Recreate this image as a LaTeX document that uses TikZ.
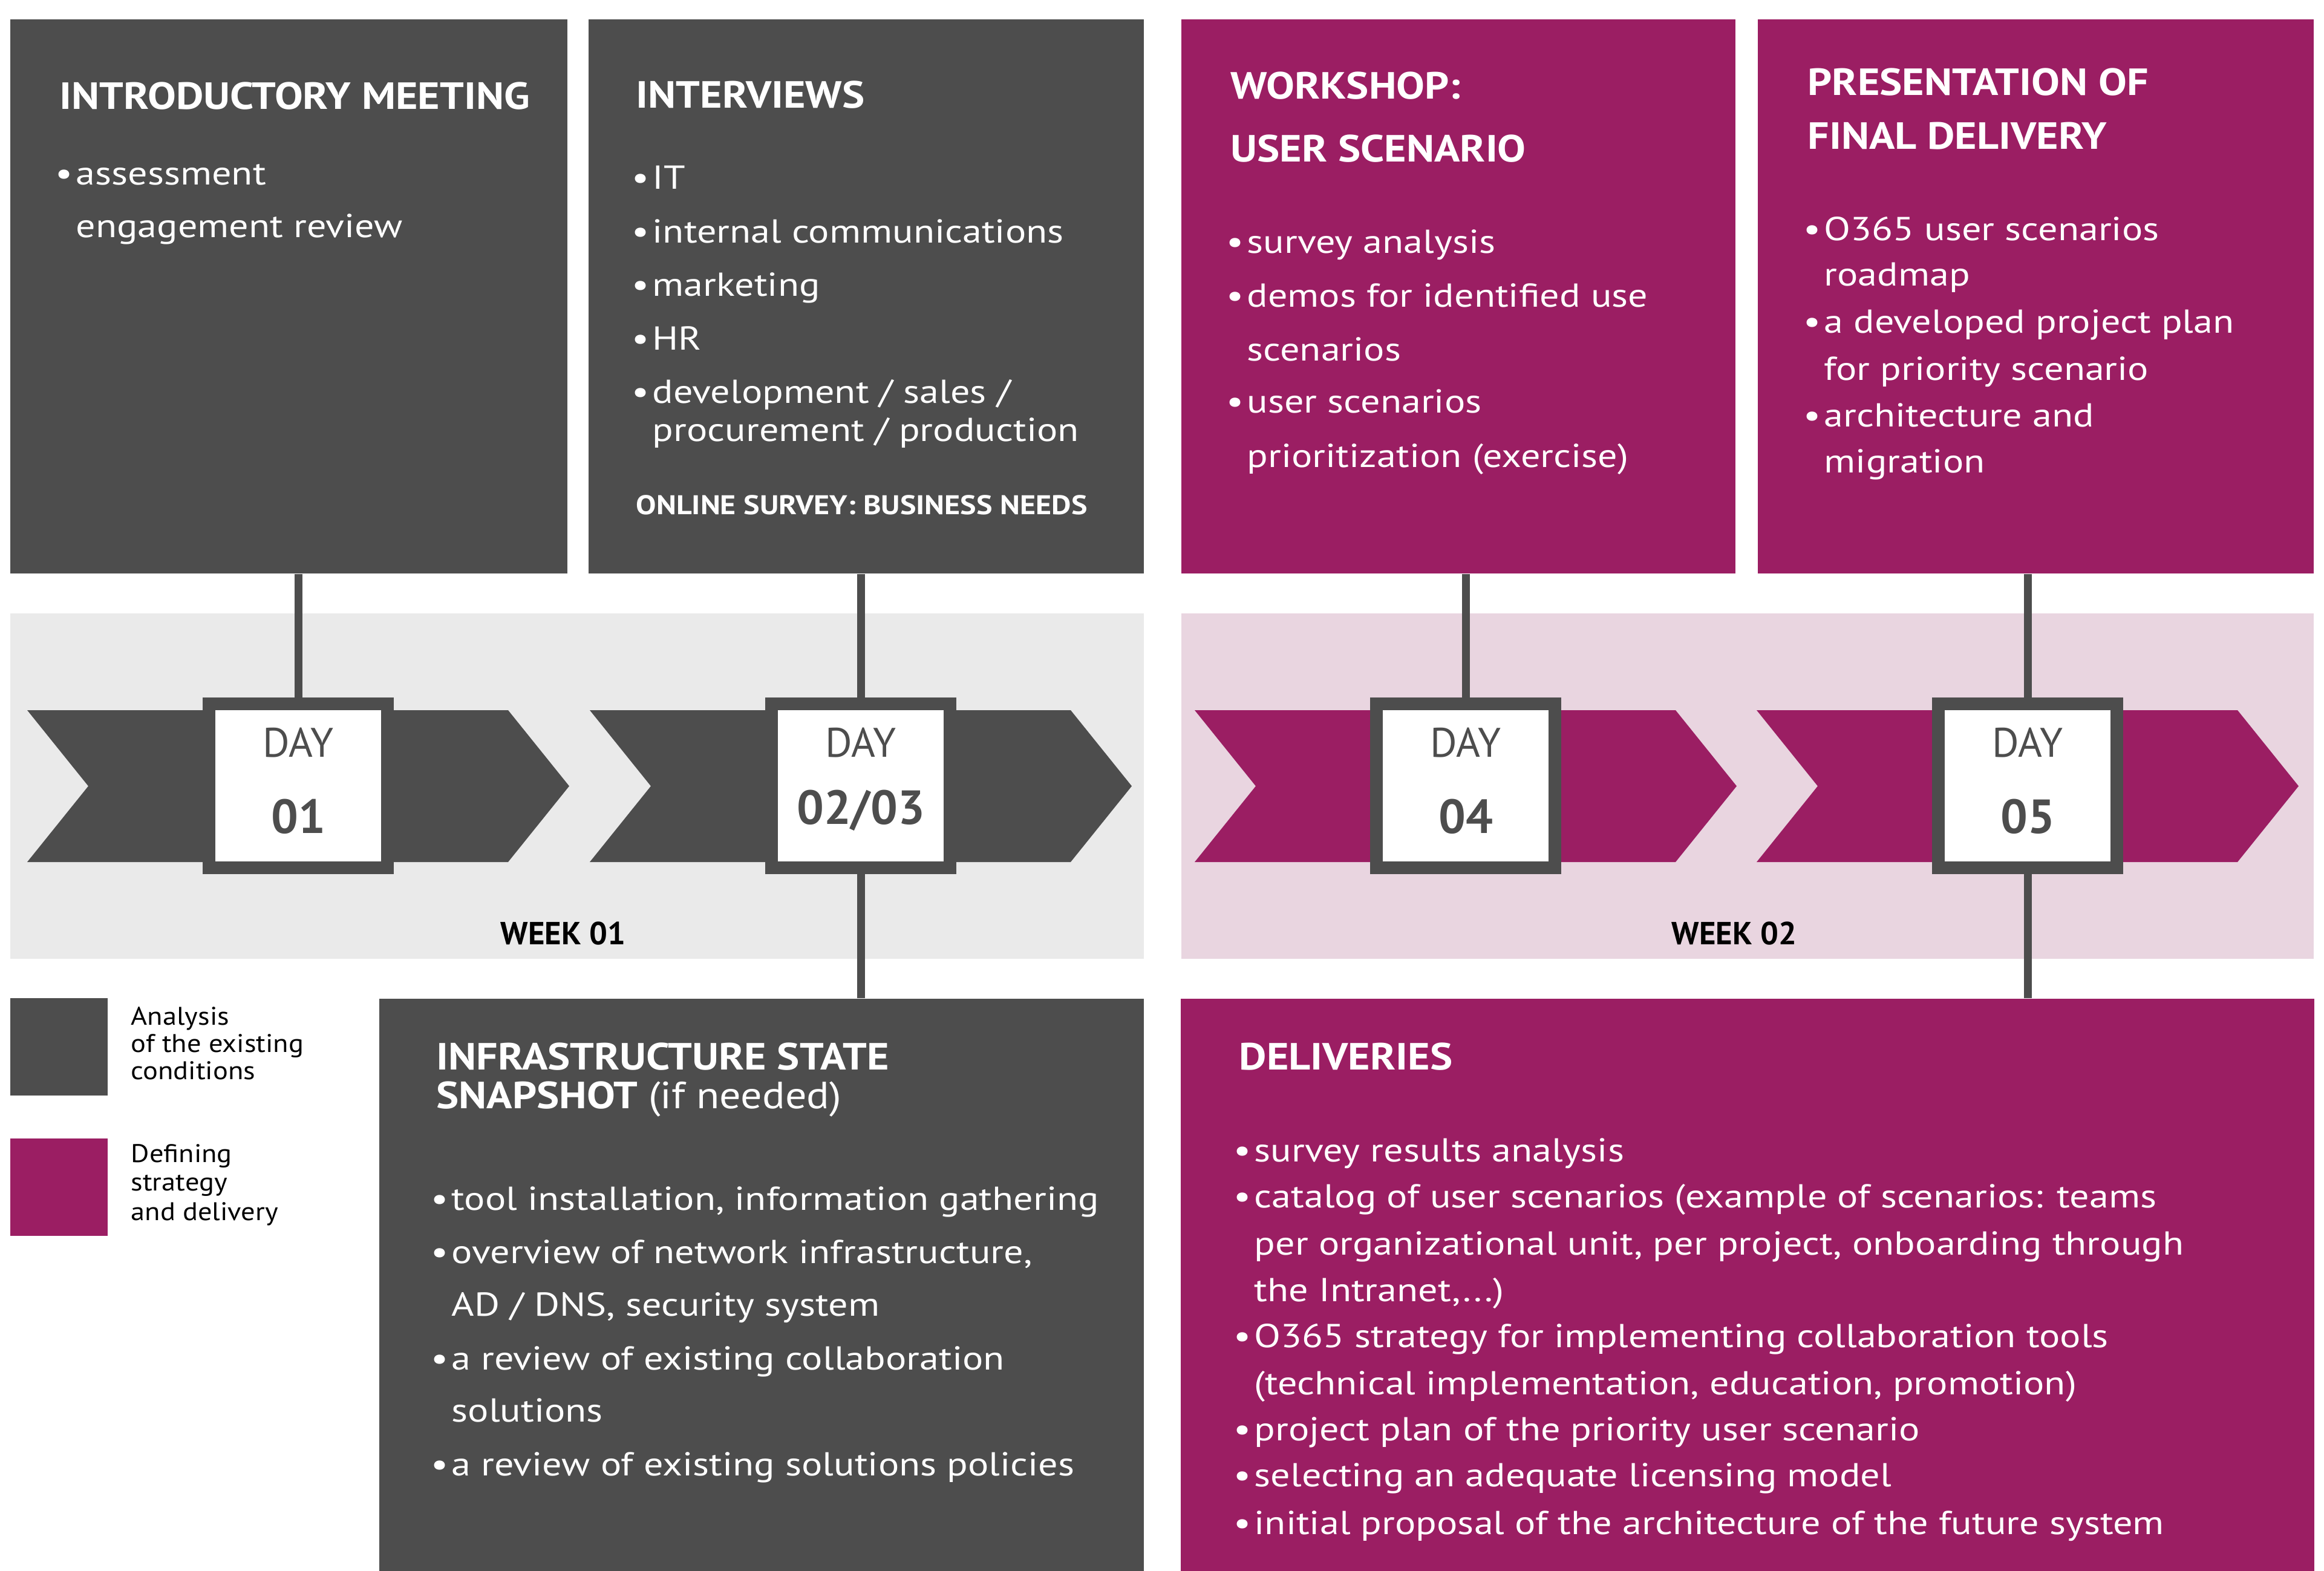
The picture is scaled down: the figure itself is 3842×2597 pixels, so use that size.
\documentclass[tikz,border=0pt]{standalone}
\usepackage{fontspec}
\setmainfont{PT Sans}[FakeStretch=1.17]
\newfontfamily\headsans{PT Sans}[FakeStretch=1.12]
\newfontfamily\keysans{PT Sans}[FakeStretch=1.10]
\newfontfamily\plainsans{PT Sans}
\usetikzlibrary{positioning}

\definecolor{darkbox}{HTML}{4D4D4D}
\definecolor{plum}{HTML}{9B1E63}
\definecolor{greyband}{HTML}{EAEAEA}
\definecolor{plumband}{HTML}{E9D5E0}

\newcommand\headfont{\headsans\bfseries\fontsize{17.8}{21}\selectfont}
\newcommand\bodyfont{\fontsize{15.6}{19}\selectfont}
\newcommand\notefont{\headsans\bfseries\fontsize{12.7}{15}\selectfont}
\newcommand\legendfont{\keysans\fontsize{12}{14}\selectfont}
\newcommand\weekfont{\plainsans\bfseries\fontsize{15}{18}\selectfont}
\newcommand\dayfont{\plainsans\fontsize{19.4}{23}\selectfont}
\newcommand\numfont{\plainsans\bfseries\fontsize{22.5}{26}\selectfont}
\newcommand\bul{\llap{\textbullet\hspace{1.5pt}}}

\begin{document}
\begin{tikzpicture}[x=0.01cm, y=-0.01cm,
    card/.style={fill=#1, inner sep=0pt, minimum height=9.16cm},
    daybox/.style={fill=white, draw=darkbox, line width=0.21cm, inner sep=0pt, minimum width=2.94cm, minimum height=2.71cm},
    head/.style={anchor=base west, inner sep=0pt, text=white, font=\headfont},
    item/.style={anchor=base west, inner sep=0pt, text=white, font=\bodyfont},
    legend/.style={anchor=base west, inner sep=0pt, font=\legendfont},
    link/.style={darkbox, line width=0.13cm}
]
\useasboundingbox (0,0) rectangle (3842,2597);

% week bands
\fill[greyband] (17,1014) rectangle (1891,1585);
\fill[plumband] (1953,1014) rectangle (3825,1585);

% cards
\node[card=darkbox, minimum width=9.21cm] (intro) at (477.5,490) {};
\node[card=darkbox, minimum width=9.18cm] (interv) at (1432,490) {};
\node[card=plum, minimum width=9.16cm] (work) at (2411,490) {};
\node[card=plum, minimum width=9.19cm] (final) at (3365.5,490) {};
\node[card=darkbox, minimum width=12.64cm, minimum height=9.46cm] (infra) at (1259,2124) {};
\node[card=plum, minimum width=18.72cm, minimum height=9.46cm] (deliv) at (2889,2124) {};

% chevrons
\foreach \cx/\col in {493/darkbox, 1423/darkbox, 2423/plum, 3352/plum}
  \fill[\col] (\cx-448,1174) -- ++(795,0) -- ++(101,125.5) -- ++(-101,125.5) -- ++(-795,0) -- ++(101,-125.5) -- cycle;

% day markers
\node[daybox] (day1) at (493,1299) {};
\node[daybox] (day2) at (1423,1299) {};
\node[daybox] (day3) at (2423,1299) {};
\node[daybox] (day4) at (3352,1299) {};

\draw[link] (day1.north) -- (day1.north |- intro.south);
\draw[link] (day2.north) -- (day2.north |- interv.south);
\draw[link] (day2.south) -- (day2.south |- infra.north);
\draw[link] (day3.north) -- (day3.north |- work.south);
\draw[link] (day4.north) -- (day4.north |- final.south);
\draw[link] (day4.south) -- (day4.south |- deliv.north);

\node[anchor=base, font=\dayfont, text=darkbox] (d1a) at (493,1251) {DAY};
\node[anchor=base, font=\numfont, text=darkbox] (d1b) at (493,1377) {01};
\node[anchor=base, font=\dayfont, text=darkbox] (d2a) at (1423,1251) {DAY};
\node[anchor=base, font=\numfont, text=darkbox] (d2b) at (1423,1362) {02/03};
\node[anchor=base, font=\dayfont, text=darkbox] (d3a) at (2423,1251) {DAY};
\node[anchor=base, font=\numfont, text=darkbox] (d3b) at (2423,1377) {04};
\node[anchor=base, font=\dayfont, text=darkbox] (d4a) at (3352,1251) {DAY};
\node[anchor=base, font=\numfont, text=darkbox] (d4b) at (3352,1377) {05};

\node[anchor=base, font=\weekfont] (wk1) at (931,1561) {WEEK 01};
\node[anchor=base, font=\weekfont] (wk2) at (2867,1561) {WEEK 02};

% introductory meeting
\node[head] (t1) at (98,181) {INTRODUCTORY MEETING};
\node[item] (t1a) at (125,305) {\bul assessment};
\node[item] (t1b) at (125,393) {engagement review};

% interviews
\node[head] (t2) at (1051,179) {INTERVIEWS};
\node[item] (t2a) at (1078,313) {\bul IT};
\node[item] (t2b) at (1078,401) {\bul internal communications};
\node[item] (t2c) at (1078,489) {\bul marketing};
\node[item] (t2d) at (1078,578) {\bul HR};
\node[item] (t2e) at (1078,666) {\bul development / sales /};
\node[item] (t2f) at (1078,729) {procurement / production};
\node[anchor=base west, inner sep=0pt, text=white, font=\notefont] (t2g) at (1051,850) {ONLINE SURVEY: BUSINESS NEEDS};

% workshop
\node[head] (t3) at (2034,163) {WORKSHOP:};
\node[head] (t3x) at (2034,268) {USER SCENARIO};
\node[item] (t3a) at (2061,418) {\bul survey analysis};
\node[item] (t3b) at (2061,507) {\bul demos for identified use};
\node[item] (t3c) at (2061,596) {scenarios};
\node[item] (t3d) at (2061,682) {\bul user scenarios};
\node[item] (t3e) at (2061,772) {prioritization (exercise)};

% final delivery
\node[head] (t4) at (2988,158) {PRESENTATION OF};
\node[head] (t4x) at (2988,246) {FINAL DELIVERY};
\node[item] (t4a) at (3015,397) {\bul O365 user scenarios};
\node[item] (t4b) at (3015,472) {roadmap};
\node[item] (t4c) at (3015,550) {\bul a developed project plan};
\node[item] (t4d) at (3015,628) {for priority scenario};
\node[item] (t4e) at (3015,705) {\bul architecture and};
\node[item] (t4f) at (3015,781) {migration};

% infrastructure snapshot
\node[head] (t5) at (721,1768) {INFRASTRUCTURE STATE};
\node[head] (t5x) at (721,1832) {SNAPSHOT {\mdseries (if needed)}};
\node[item] (t5a) at (746,2000) {\bul tool installation, information gathering};
\node[item] (t5b) at (746,2088) {\bul overview of network infrastructure,};
\node[item] (t5c) at (746,2175) {AD / DNS, security system};
\node[item] (t5d) at (746,2264) {\bul a review of existing collaboration};
\node[item] (t5e) at (746,2350) {solutions};
\node[item] (t5f) at (746,2439) {\bul a review of existing solutions policies};

% deliveries
\node[head] (t6) at (2048,1768) {DELIVERIES};
\node[item] (t6a) at (2073,1920) {\bul survey results analysis};
\node[item] (t6b) at (2073,1996) {\bul catalog of user scenarios (example of scenarios: teams};
\node[item] (t6c) at (2073,2074) {per organizational unit, per project, onboarding through};
\node[item] (t6d) at (2073,2151) {the Intranet,...)};
\node[item] (t6e) at (2073,2227) {\bul O365 strategy for implementing collaboration tools};
\node[item] (t6f) at (2073,2305) {(technical implementation, education, promotion)};
\node[item] (t6g) at (2073,2381) {\bul project plan of the priority user scenario};
\node[item] (t6h) at (2073,2457) {\bul selecting an adequate licensing model};
\node[item] (t6i) at (2073,2536) {\bul initial proposal of the architecture of the future system};

% legend
\node[fill=darkbox, inner sep=0pt, minimum size=1.61cm] (keya) at (97.5,1730.5) {};
\node[fill=plum, inner sep=0pt, minimum size=1.61cm] (keyb) at (97.5,1962.5) {};
\node[legend] (ka1) at (216,1694) {Analysis};
\node[legend] (ka2) at (216,1739) {of the existing};
\node[legend] (ka3) at (216,1784) {conditions};
\node[legend] (kb1) at (216,1921) {Defining};
\node[legend] (kb2) at (216,1968) {strategy};
\node[legend] (kb3) at (216,2017) {and delivery};

\end{tikzpicture}
\end{document}
